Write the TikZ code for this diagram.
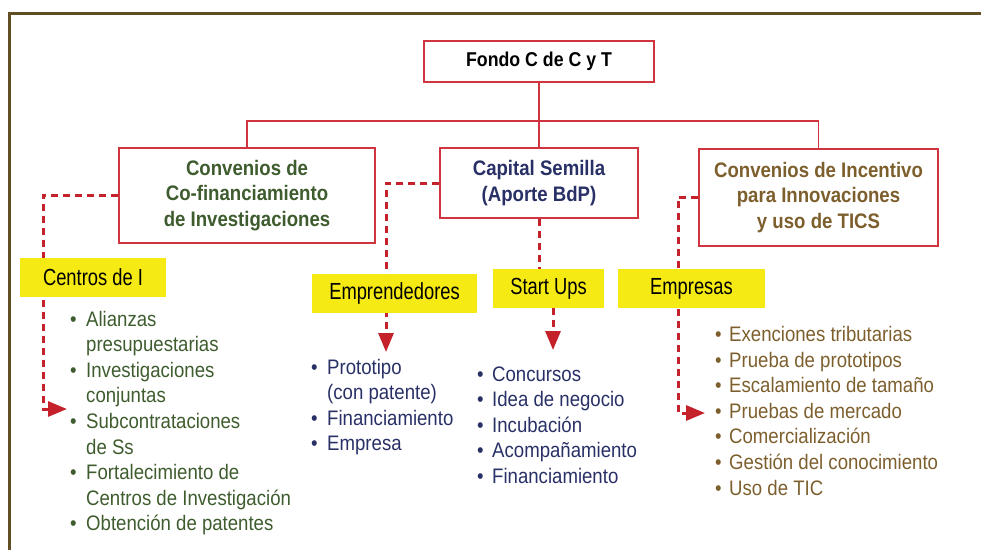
\documentclass[tikz,border=0pt]{standalone}
\usepackage{fontspec}
\setmainfont[FakeStretch=0.886]{Liberation Sans}
\newfontfamily\lblfont[FakeStretch=0.787]{Liberation Sans}
\usetikzlibrary{arrows.meta,backgrounds}
\definecolor{framebrown}{RGB}{98,78,35}
\definecolor{boxred}{RGB}{208,52,62}
\definecolor{dashred}{RGB}{196,33,43}
\definecolor{lblyellow}{RGB}{246,234,20}
\definecolor{tgreen}{RGB}{62,92,46}
\definecolor{tnavy}{RGB}{40,48,102}
\definecolor{tgold}{RGB}{125,95,45}
\begin{document}
\begin{tikzpicture}[x=1pt,y=-1pt,
  titlebox/.style={draw=boxred,line width=1.5pt,fill=white,inner sep=0pt,align=center,
    font=\fontsize{21}{25.6}\selectfont\bfseries},
  lbl/.style={fill=lblyellow,inner sep=0pt,minimum height=39pt,
    font=\lblfont\fontsize{23.3}{27}\selectfont},
  treeline/.style={draw=boxred,line width=1.5pt},
  dashconn/.style={draw=dashred,line width=3pt,dash pattern=on 7pt off 5pt},
  arrowend/.style={-{Triangle[length=19pt,width=15pt]}},
  listline/.style={anchor=base west,inner sep=0pt,font=\fontsize{21}{25.6}\selectfont}
]
\useasboundingbox (0,0) rectangle (981,549);

% frame
\draw[framebrown,line width=2.6pt,line join=miter] (9.5,560) -- (9.5,13.5) -- (995,13.5);

% title boxes
\node[titlebox,font=\fontsize{20}{25.6}\selectfont\bfseries,minimum width=230pt,minimum height=41pt] (fondo) at (539,61.5) {Fondo C de C y T};
\node[titlebox,text=tgreen,minimum width=256pt,minimum height=95pt] (conv1) at (247,195.5)
  {Convenios de\\Co-financiamiento\\de Investigaciones};
\node[titlebox,text=tnavy,minimum width=198pt,minimum height=70pt] (cap) at (539,183)
  {Capital Semilla\\(Aporte BdP)};
\node[titlebox,text=tgold,minimum width=239pt,minimum height=97pt] (conv3) at (818.5,197.5)
  {Convenios de Incentivo\\para Innovaciones\\y uso de TICS};

% tree connectors
\coordinate (busL) at (247,121);
\coordinate (busR) at (818.5,121);
\draw[treeline] (fondo.south) -- (cap.north);
\draw[treeline] (conv1.north) -- (busL) -- (busR) -- (conv3.north);

% yellow labels
\node[lbl,minimum width=146pt] (centros) at (93,277.5) {Centros de I};
\node[lbl,minimum width=165pt] (empr) at (394.5,293.5) {Emprendedores};
\node[lbl,minimum width=111pt] (start) at (548.5,288.5) {Start Ups};
\node[lbl,minimum width=147pt] (empresas) at (691.5,288.5) {Empresas};

% dashed connectors (behind the yellow labels)
\begin{scope}[on background layer]
  \coordinate (c1) at (43,409);
  \coordinate (t1) at (67,409);
  \draw[dashconn,arrowend] (conv1.west) -| (c1) -- (t1);
  \coordinate (t2) at (386,352);
  \draw[dashconn,arrowend] (cap.west) -| (t2);
  \draw[dashconn] (cap.south) -- (cap.south |- start.north);
  \coordinate (t3) at (553,350);
  \draw[dashconn,arrowend] (t3 |- start.south) -- (t3);
  \coordinate (c4) at (678,413);
  \coordinate (t4) at (705,413);
  \draw[dashconn,arrowend] (conv3.west) -| (c4) -- (t4);
\end{scope}

% lists
\foreach \t [count=\i from 0] in {Alianzas,presupuestarias,Investigaciones,conjuntas,Subcontrataciones,de Ss,Fortalecimiento de,Centros de Investigación,Obtención de patentes}
  \node[listline,text=tgreen] (ga\i) at (86,{326+25.6*\i}) {\t};
\foreach \i in {0,2,4,6,8}
  \node[listline,text=tgreen] (gb\i) at (70,{326+25.6*\i}) {\textbullet};

\foreach \t [count=\i from 0] in {Prototipo,(con patente),Financiamiento,Empresa}
  \node[listline,text=tnavy] (ea\i) at (327,{374+25.6*\i}) {\t};
\foreach \i in {0,2,3}
  \node[listline,text=tnavy] (eb\i) at (311,{374+25.6*\i}) {\textbullet};

\foreach \t [count=\i from 0] in {Concursos,Idea de negocio,Incubación,Acompañamiento,Financiamiento}
  \node[listline,text=tnavy] (sa\i) at (492,{381+25.6*\i}) {\t};
\foreach \i in {0,...,4}
  \node[listline,text=tnavy] (sb\i) at (477,{381+25.6*\i}) {\textbullet};

\foreach \t [count=\i from 0] in {Exenciones tributarias,Prueba de prototipos,Escalamiento de tamaño,Pruebas de mercado,Comercialización,Gestión del conocimiento,Uso de TIC}
  \node[listline,text=tgold] (ka\i) at (729,{341.5+25.6*\i}) {\t};
\foreach \i in {0,...,6}
  \node[listline,text=tgold] (kb\i) at (715,{341.5+25.6*\i}) {\textbullet};
\end{tikzpicture}
\end{document}
